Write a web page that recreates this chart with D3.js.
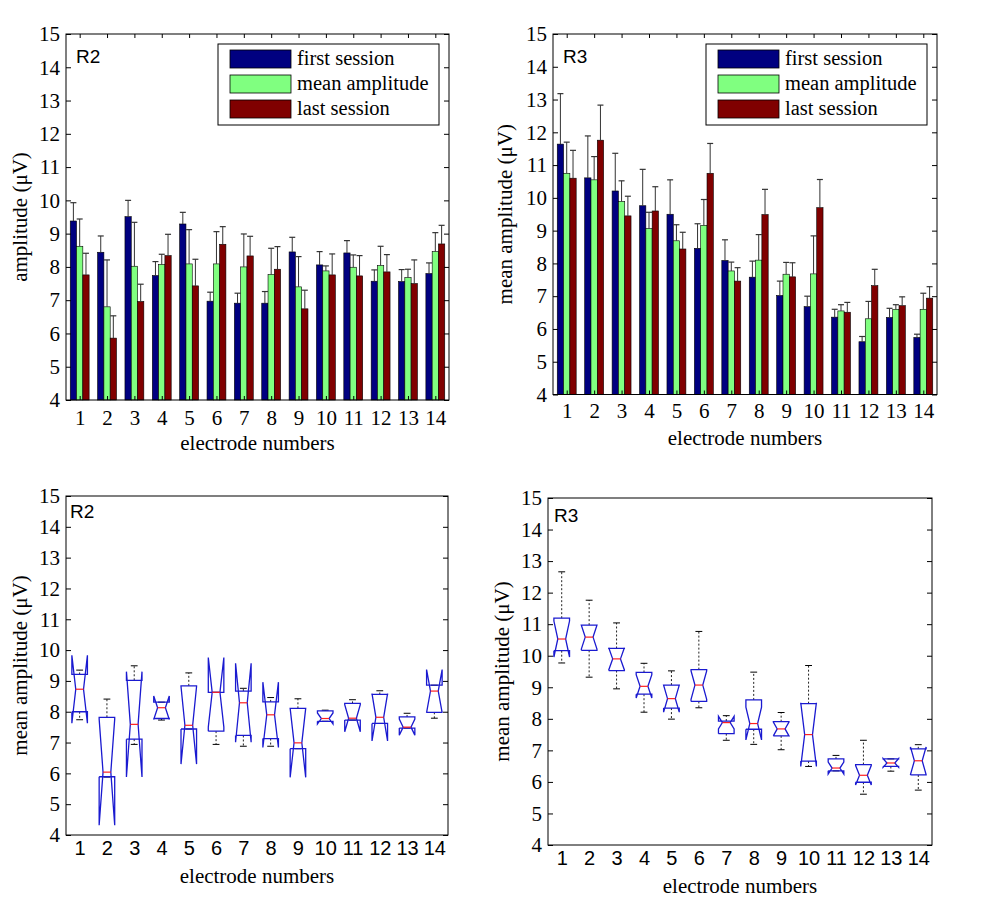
<!DOCTYPE html>
<html>
<head>
<meta charset="utf-8">
<script src="https://cdn.jsdelivr.net/npm/d3@7"></script>
<style>
  html, body { margin: 0; padding: 0; background: #fff; }
  svg { display: block; }
</style>
</head>
<body>
<svg id="chart" width="983" height="913"></svg>
<script>
// ---------------- DATA ----------------
const categories = [1, 2, 3, 4, 5, 6, 7, 8, 9, 10, 11, 12, 13, 14];
const yTicks = [4, 5, 6, 7, 8, 9, 10, 11, 12, 13, 14, 15];
const seriesNames = ["first session", "mean amplitude", "last session"];

// R2 bar chart (top-left)
const r2First     = [9.38, 8.44, 9.51, 7.74, 9.29, 6.97, 6.91, 6.91, 8.45, 8.06, 8.42, 7.57, 7.56, 7.80];
const r2FirstErr  = [0.55, 0.49, 0.49, 0.42, 0.35, 0.27, 0.30, 0.35, 0.44, 0.40, 0.37, 0.34, 0.36, 0.32];
const r2Mean      = [8.62, 6.80, 8.02, 8.07, 8.09, 8.09, 8.00, 7.77, 7.40, 7.88, 7.99, 8.04, 7.68, 8.46];
const r2MeanErr   = [0.82, 1.41, 1.32, 0.31, 1.03, 0.97, 0.99, 0.79, 0.91, 0.15, 0.37, 0.58, 0.25, 0.57];
const r2Last      = [7.76, 5.86, 6.96, 8.34, 7.43, 8.68, 8.33, 7.93, 6.74, 7.76, 7.73, 7.85, 7.50, 8.69];
const r2LastErr   = [0.65, 0.67, 0.52, 0.64, 0.80, 0.53, 0.59, 0.68, 0.56, 0.63, 0.61, 0.52, 0.71, 0.56];

// R3 bar chart (top-right)
const r3First     = [11.64, 10.61, 10.21, 9.76, 9.50, 8.46, 8.09, 7.58, 7.02, 6.68, 6.36, 5.61, 6.35, 5.74];
const r3FirstErr  = [1.54, 1.28, 1.15, 1.11, 1.05, 0.75, 0.63, 0.49, 0.44, 0.32, 0.24, 0.16, 0.28, 0.10];
const r3Mean      = [10.75, 10.55, 9.89, 9.06, 8.69, 9.16, 7.77, 8.10, 7.67, 7.68, 6.55, 6.31, 6.60, 6.60];
const r3MeanErr   = [0.95, 0.71, 0.63, 0.50, 0.49, 0.79, 0.27, 0.78, 0.36, 1.16, 0.19, 0.53, 0.14, 0.49];
const r3Last      = [10.60, 11.76, 9.45, 9.60, 8.44, 10.75, 7.46, 9.49, 7.59, 9.70, 6.51, 7.32, 6.71, 6.94];
const r3LastErr   = [0.85, 1.07, 0.60, 0.74, 0.51, 0.91, 0.41, 0.77, 0.43, 0.86, 0.30, 0.50, 0.27, 0.35];

// R2 notched box plots (bottom-left)
const r2BoxQ1     = [8.00, 5.89, 7.11, 7.78, 7.44, 7.37, 7.23, 7.13, 6.80, 7.69, 7.73, 7.62, 7.47, 7.98];
const r2BoxMed    = [8.73, 6.04, 7.59, 8.13, 7.56, 8.63, 8.29, 7.90, 6.99, 7.78, 7.79, 7.82, 7.50, 8.67];
const r2BoxQ3     = [9.21, 7.82, 9.02, 8.31, 8.84, 8.63, 8.67, 8.32, 8.11, 8.03, 8.27, 8.56, 7.83, 8.86];
const r2BoxNotch  = [1.10, 1.72, 1.71, 0.38, 1.26, 1.13, 1.28, 1.06, 1.12, 0.18, 0.44, 0.77, 0.26, 0.70];
const r2BoxLo     = [7.74, 5.88, 6.94, 7.73, 7.44, 6.94, 6.88, 6.88, 6.80, 7.69, 7.73, 7.62, 7.47, 7.79];
const r2BoxHi     = [9.35, 8.41, 9.49, 8.31, 9.26, 8.63, 8.76, 8.46, 8.42, 8.05, 8.39, 8.68, 7.95, 8.86];

// R3 notched box plots (bottom-right)
const r3BoxQ1     = [10.16, 10.17, 9.53, 8.78, 8.34, 8.55, 7.53, 7.67, 7.46, 6.66, 6.35, 5.99, 6.49, 6.22];
const r3BoxMed    = [10.53, 10.59, 9.90, 9.03, 8.64, 9.07, 7.88, 7.85, 7.68, 7.50, 6.44, 6.21, 6.60, 6.67];
const r3BoxQ3     = [11.19, 10.97, 10.23, 9.47, 9.07, 9.56, 7.93, 8.60, 7.91, 8.48, 6.73, 6.55, 6.73, 7.05];
const r3BoxNotch  = [0.57, 0.38, 0.35, 0.37, 0.43, 0.45, 0.20, 0.52, 0.22, 1.01, 0.19, 0.31, 0.14, 0.44];
const r3BoxLo     = [9.77, 9.32, 8.95, 8.21, 7.99, 8.35, 7.32, 7.19, 7.02, 6.49, 6.35, 5.61, 6.34, 5.74];
const r3BoxHi     = [12.66, 11.76, 11.04, 9.76, 9.52, 10.77, 8.10, 9.48, 8.20, 9.69, 6.84, 7.32, 6.73, 7.18];

// ---------------- DRAWING ----------------
const svg = d3.select("#chart");
svg.append("rect").attr("width", 983).attr("height", 913).attr("fill", "#fff");
const SERIF = "'Liberation Serif', 'Times New Roman', serif";
const SANS = "'Liberation Sans', Arial, sans-serif";
const colors = ["#000080", "#80ff80", "#800000"];

function styleAxis(ax, font, size) {
  ax.select(".domain").remove();
  ax.selectAll(".tick line").attr("stroke", "#000").attr("stroke-width", 1);
  ax.selectAll("text").attr("font-family", font).attr("font-size", size).attr("fill", "#000");
}

function frame(p, x, y, opts) {
  const g = svg.append("g");
  const yl = g.append("g").attr("transform", `translate(${p.left},0)`)
    .call(d3.axisLeft(y).tickValues(yTicks).tickSizeInner(-5).tickSizeOuter(0).tickPadding(6));
  styleAxis(yl, SERIF, 21);
  const yr = g.append("g").attr("transform", `translate(${p.right},0)`)
    .call(d3.axisRight(y).tickValues(yTicks).tickSizeInner(-5).tickSizeOuter(0).tickFormat(""));
  styleAxis(yr, SERIF, 21);
  const xb = g.append("g").attr("transform", `translate(0,${p.bottom})`)
    .call(d3.axisBottom(x).tickValues(categories).tickSizeInner(opts.xTicks ? -4 : 0)
      .tickSizeOuter(0).tickPadding(opts.xPad));
  styleAxis(xb, opts.xFont, opts.xSize);
  if (opts.xTicks) {
    const xt = g.append("g").attr("transform", `translate(0,${p.top})`)
      .call(d3.axisTop(x).tickValues(categories).tickSizeInner(-4).tickSizeOuter(0).tickFormat(""));
    styleAxis(xt, SERIF, 21);
  }
  g.append("rect").attr("x", p.left).attr("y", p.top)
    .attr("width", p.right - p.left).attr("height", p.bottom - p.top)
    .attr("fill", "none").attr("stroke", "#000").attr("stroke-width", 1);
  g.append("text").attr("x", (p.left + p.right) / 2).attr("y", opts.xLabelY)
    .attr("text-anchor", "middle").attr("font-family", SERIF).attr("font-size", 21)
    .text("electrode numbers");
  g.append("text").attr("transform", `translate(${opts.yLabelX},${(p.top + p.bottom) / 2}) rotate(-90)`)
    .attr("text-anchor", "middle").attr("font-family", SERIF).attr("font-size", 21)
    .text(opts.yLabel);
  g.append("text").attr("x", p.left + opts.tagDx).attr("y", p.top + opts.tagDy)
    .attr("font-family", SANS).attr("font-size", 19).text(opts.tag);
}

function barPanel(p, series, opts) {
  const x = d3.scaleLinear().domain([0.5, 14.5]).range([p.left, p.right]);
  const y = d3.scaleLinear().domain([4, 15]).range([p.bottom, p.top]);
  const bw = 0.23;
  const g = svg.append("g");
  series.forEach((s, si) => {
    const off = (si - 1) * bw;
    const rows = categories.map((c, i) => ({ c, v: s.values[i], e: s.errs[i] }));
    g.selectAll(null).data(rows).enter().append("rect")
      .attr("x", d => x(d.c + off - bw / 2))
      .attr("width", x(bw) - x(0))
      .attr("y", d => y(d.v))
      .attr("height", d => y(4) - y(d.v))
      .attr("fill", colors[si]).attr("stroke", "#000").attr("stroke-width", 0.6);
    g.selectAll(null).data(rows).enter().append("line")
      .attr("x1", d => x(d.c + off)).attr("x2", d => x(d.c + off))
      .attr("y1", d => y(d.v)).attr("y2", d => y(d.v + d.e))
      .attr("stroke", "#333").attr("stroke-width", 1);
    g.selectAll(null).data(rows).enter().append("line")
      .attr("x1", d => x(d.c + off) - 3).attr("x2", d => x(d.c + off) + 3)
      .attr("y1", d => y(d.v + d.e)).attr("y2", d => y(d.v + d.e))
      .attr("stroke", "#333").attr("stroke-width", 1.2);
  });
  frame(p, x, y, opts);
  const lg = svg.append("g");
  const lx = p.right - 10 - 221, ly = p.top + 10;
  lg.append("rect").attr("x", lx).attr("y", ly).attr("width", 221).attr("height", 81)
    .attr("fill", "#fff").attr("stroke", "#000").attr("stroke-width", 1);
  seriesNames.forEach((n, i) => {
    lg.append("rect").attr("x", lx + 12).attr("y", ly + 6 + i * 25).attr("width", 61).attr("height", 18)
      .attr("fill", colors[i]).attr("stroke", "#000").attr("stroke-width", 0.8);
    lg.append("text").attr("x", lx + 79).attr("y", ly + 21 + i * 25)
      .attr("font-family", SERIF).attr("font-size", 20.5).text(n);
  });
}

function boxPanel(p, b, opts) {
  const x = d3.scaleLinear().domain([0.5, 14.5]).range([p.left, p.right]);
  const y = d3.scaleLinear().domain([4, 15]).range([p.bottom, p.top]);
  const w = 0.285, cw = 0.125;
  const rows = categories.map((c, i) => ({
    c, q1: b.q1[i], med: b.med[i], q3: b.q3[i], n: b.notch[i], lo: b.lo[i], hi: b.hi[i]
  }));
  const g = svg.append("g");
  rows.forEach(d => {
    [[d.q3, d.hi], [d.q1, d.lo]].forEach(([a, e]) => {
      if (Math.abs(a - e) > 0.001) {
        g.append("line").attr("x1", x(d.c)).attr("x2", x(d.c)).attr("y1", y(a)).attr("y2", y(e))
          .attr("stroke", "#222").attr("stroke-width", 1).attr("stroke-dasharray", "2,2");
      }
      g.append("line").attr("x1", x(d.c - cw)).attr("x2", x(d.c + cw)).attr("y1", y(e)).attr("y2", y(e))
        .attr("stroke", "#000").attr("stroke-width", 1);
    });
  });
  const line = d3.line().x(pt => x(pt[0])).y(pt => y(pt[1]));
  rows.forEach(d => {
    const nlo = d.med - d.n, nhi = d.med + d.n;
    const pts = [
      [d.c - w, d.q1], [d.c - w, nlo], [d.c - w / 2, d.med], [d.c - w, nhi], [d.c - w, d.q3],
      [d.c + w, d.q3], [d.c + w, nhi], [d.c + w / 2, d.med], [d.c + w, nlo], [d.c + w, d.q1],
      [d.c - w, d.q1]
    ];
    g.append("path").attr("d", line(pts)).attr("fill", "none")
      .attr("stroke", "#1a1ad0").attr("stroke-width", 1.3);
    g.append("line").attr("x1", x(d.c - w / 2)).attr("x2", x(d.c + w / 2))
      .attr("y1", y(d.med)).attr("y2", y(d.med)).attr("stroke", "#ff2020").attr("stroke-width", 1.2);
  });
  frame(p, x, y, opts);
}

barPanel({ left: 66, right: 449, top: 34, bottom: 400 }, [
  { values: r2First, errs: r2FirstErr },
  { values: r2Mean, errs: r2MeanErr },
  { values: r2Last, errs: r2LastErr }
], { xTicks: true, xFont: SERIF, xSize: 21, xPad: 10, xLabelY: 450, yLabel: "amplitude (μV)", yLabelX: 27,
     tag: "R2", tagDx: 10, tagDy: 29 });

barPanel({ left: 553, right: 937, top: 34, bottom: 394.5 }, [
  { values: r3First, errs: r3FirstErr },
  { values: r3Mean, errs: r3MeanErr },
  { values: r3Last, errs: r3LastErr }
], { xTicks: true, xFont: SERIF, xSize: 21, xPad: 9, xLabelY: 445, yLabel: "mean amplitude (μV)", yLabelX: 512,
     tag: "R3", tagDx: 10, tagDy: 29 });

boxPanel({ left: 66, right: 448, top: 496, bottom: 835 },
  { q1: r2BoxQ1, med: r2BoxMed, q3: r2BoxQ3, notch: r2BoxNotch, lo: r2BoxLo, hi: r2BoxHi },
  { xTicks: false, xFont: SANS, xSize: 20, xPad: 6, xLabelY: 883, yLabel: "mean amplitude (μV)", yLabelX: 27,
    tag: "R2", tagDx: 4, tagDy: 22 });

boxPanel({ left: 548, right: 932, top: 498, bottom: 845 },
  { q1: r3BoxQ1, med: r3BoxMed, q3: r3BoxQ3, notch: r3BoxNotch, lo: r3BoxLo, hi: r3BoxHi },
  { xTicks: false, xFont: SANS, xSize: 20, xPad: 6, xLabelY: 893, yLabel: "mean amplitude (μV)", yLabelX: 509,
    tag: "R3", tagDx: 6, tagDy: 24 });
</script>
</body>
</html>
